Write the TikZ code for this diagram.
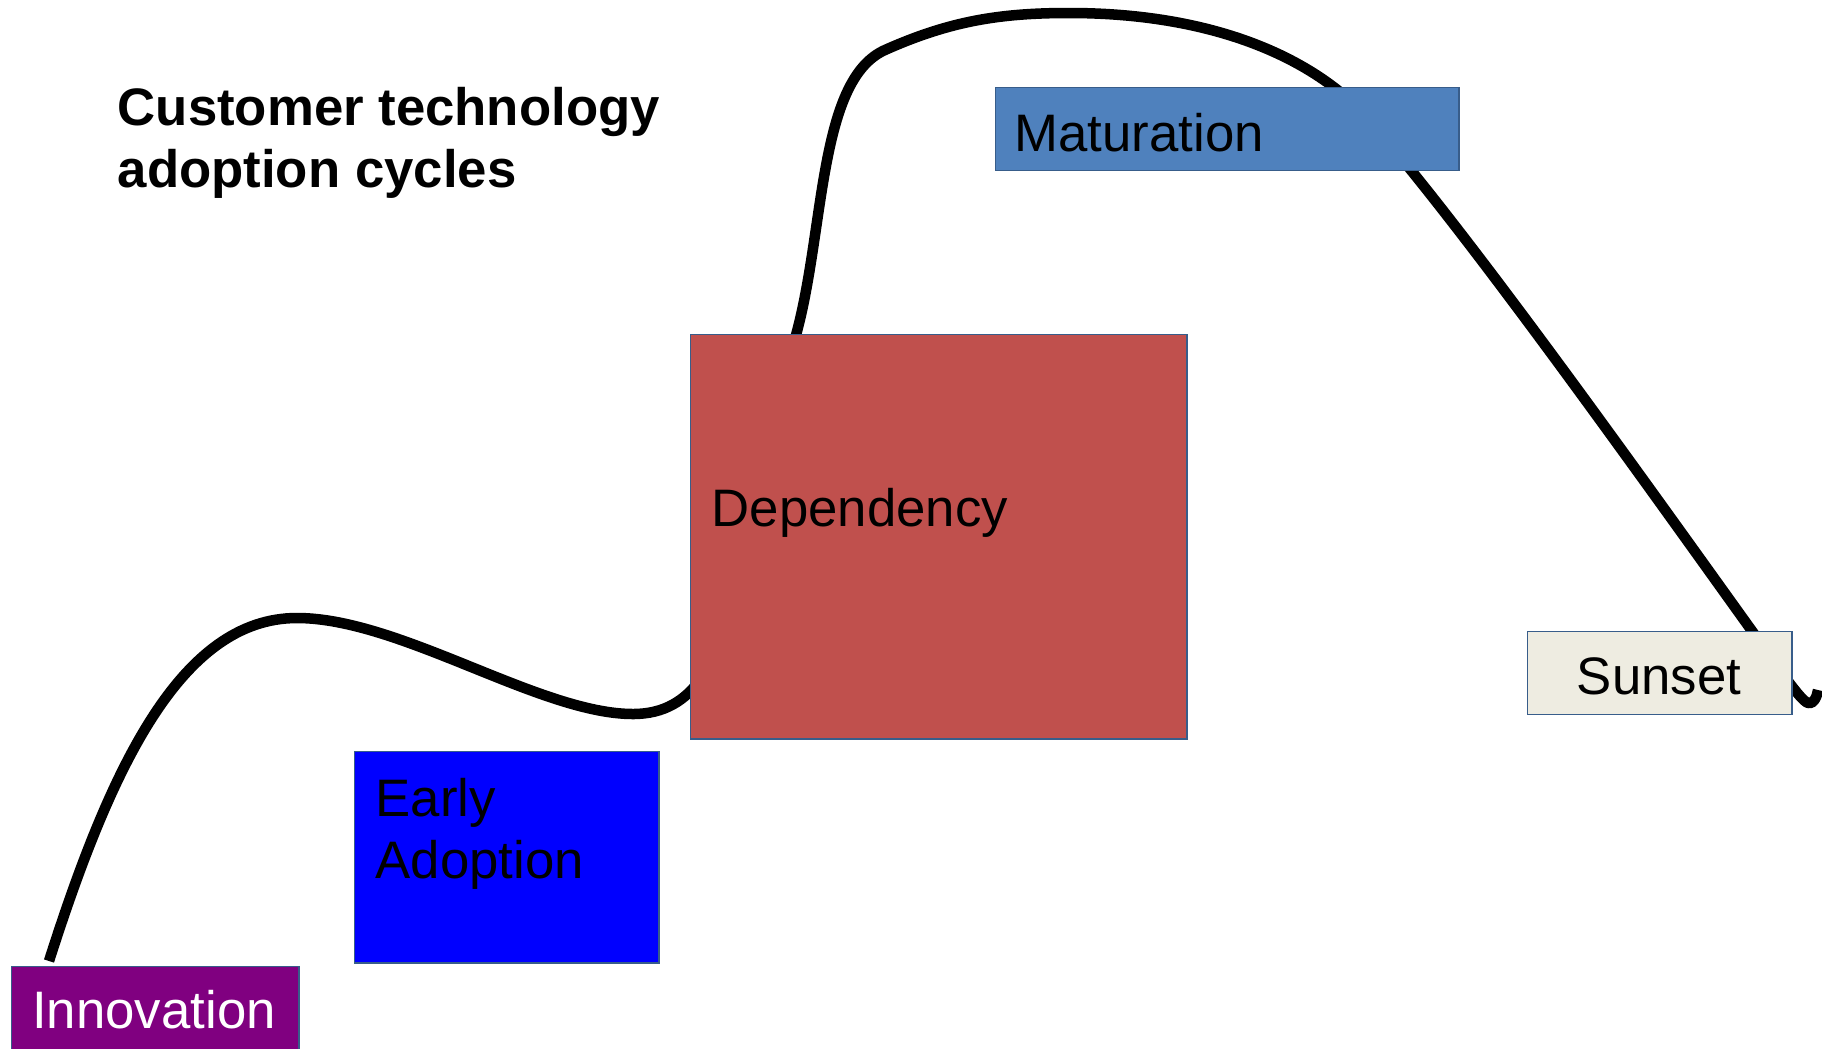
\documentclass[tikz,border=0pt]{standalone}
\usepackage{fontspec}
\setmainfont{Liberation Sans}

\definecolor{innovfill}{HTML}{800080}
\definecolor{earlyfill}{HTML}{0000FF}
\definecolor{depfill}{HTML}{C0504D}
\definecolor{matfill}{HTML}{4F81BD}
\definecolor{sunfill}{HTML}{EEECE1}
\definecolor{stageline}{HTML}{385D8A}

\tikzset{
  stage/.style={draw=stageline, line width=0.4pt, anchor=north west, inner sep=0pt},
  caption/.style={inner sep=0pt, anchor=base west, align=left, font=\fontsize{15}{17.6}\selectfont},
  cycleline/.style={line width=0.105cm, line join=round}
}

\begin{document}
\begin{tikzpicture}[x=0.01cm, y=-0.01cm]
\useasboundingbox (0,0) rectangle (1822,1048);

% adoption curve, drawn first so the boxes sit on top of it
\draw[cycleline] (49,961) coordinate (start)
  .. controls (110,770) and (180,618) .. (297,618) coordinate (peak)
  .. controls (400,618) and (540,714) .. (633,714) coordinate (dip)
  .. controls (665,714) and (685,700) .. (700,680)
  .. controls (740,600) and (775,420) .. (796,335) coordinate (rise)
  .. controls (825,230) and (818,80) .. (885,50)
  .. controls (950,21) and (1000,13) .. (1069,13) coordinate (top)
  .. controls (1200,13) and (1300,50) .. (1360,110)
  .. controls (1455,215) and (1640,475) .. (1752,631) coordinate (fall)
  .. controls (1780,670) and (1800,700) .. (1808,703)
  .. controls (1813,705) and (1817,697) .. (1818,690) coordinate (end);

% stage boxes
\node[stage, fill=innovfill, minimum width=2.87cm, minimum height=1.34cm] (innov) at (11,966) {};
\node[stage, fill=earlyfill, minimum width=3.04cm, minimum height=2.11cm] (early) at (354,751) {};
\node[stage, fill=depfill, minimum width=4.96cm, minimum height=4.04cm] (dep) at (690,334) {};
\node[stage, fill=matfill, minimum width=4.63cm, minimum height=0.83cm] (mat) at (995,87) {};
\node[stage, fill=sunfill, minimum width=2.64cm, minimum height=0.83cm] (sun) at (1527,631) {};

% stage names
\node[caption, white, anchor=base] (innov-name) at (154,1028) {Innovation};
\node[caption] (early-name) at (375,878) {Early\\Adoption};
\node[caption] (dep-name) at (711,526) {Dependency};
\node[caption] (mat-name) at (1014,151) {Maturation};
\node[caption, anchor=base] (sun-name) at (1659,694) {Sunset};

% heading
\node[caption, font=\fontsize{15}{17.6}\selectfont\bfseries] (heading) at (117,187) {Customer technology\\adoption cycles};

\end{tikzpicture}
\end{document}
